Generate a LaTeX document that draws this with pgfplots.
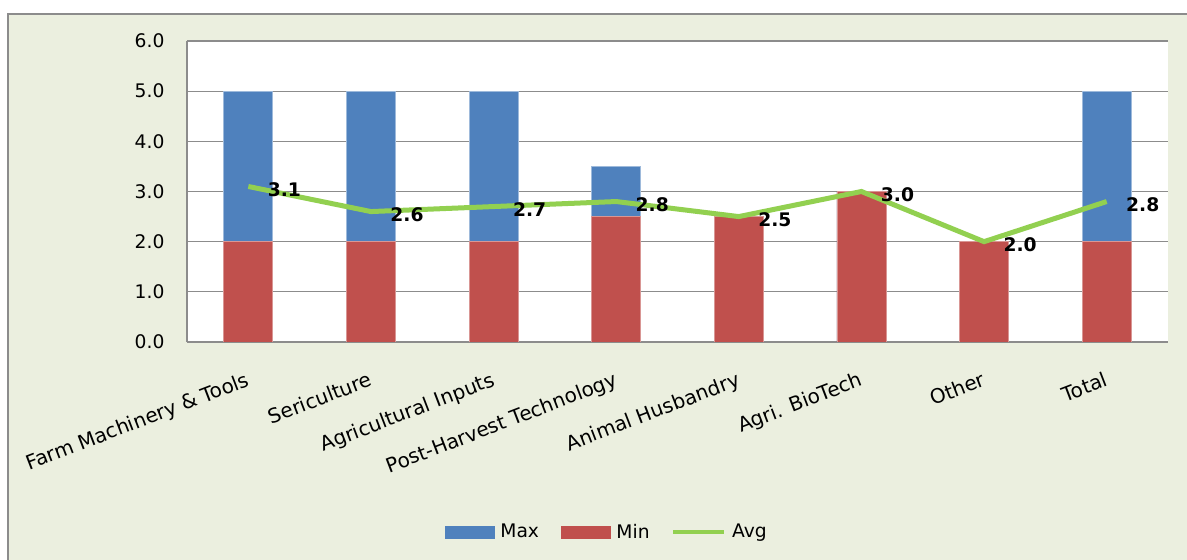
\documentclass[border=0pt]{standalone}
\usepackage{fontspec}
\setmainfont{DejaVu Sans}
\usepackage{pgfplots}
\pgfplotsset{compat=1.18}
\definecolor{bgc}{HTML}{EBEFDF}
\definecolor{maxc}{HTML}{4F81BD}
\definecolor{minc}{HTML}{C0504D}
\definecolor{avgc}{HTML}{92D050}
\definecolor{gridc}{HTML}{8C8C8C}
\newcommand\f{\fontsize{18.7bp}{22bp}\selectfont}
\newcommand\fc{\fontsize{20bp}{22bp}\selectfont}
\begin{document}
\begin{tikzpicture}[font=\f]
\useasboundingbox (0,0) rectangle (1187bp,560bp);
\fill[white] (0,0) rectangle (1187bp,560bp);
\fill[bgc] (8bp,0) rectangle (1187bp,546bp);
\draw[gridc, line width=2bp] (8bp,0) -- (8bp,546bp) -- (1187bp,546bp);
\fill[white] (187bp,218bp) rectangle (1168bp,519bp);
\begin{axis}[
  at={(187bp,218bp)}, anchor=south west,
  scale only axis, width=981bp, height=301bp,
  xmin=-0.5, xmax=7.5, ymin=0, ymax=6,
  ytick={0,1,2,3,4,5,6},
  /pgf/number format/assume math mode=true,
  yticklabel style={/pgf/number format/fixed, /pgf/number format/fixed zerofill, /pgf/number format/precision=1, font=\f, xshift=-19bp},
  xtick={0,1,2,3,4,5,6,7},
  xticklabels={Farm Machinery \& Tools, Sericulture, Agricultural Inputs, Post-Harvest Technology, Animal Husbandry, Agri. BioTech, Other, Total},
  xticklabel style={font=\fc, yshift=-29bp, xshift=-3bp, rotate=21, anchor=north east, inner sep=0pt},
  major tick length=0pt,
  ymajorgrids, grid style={gridc, line width=1.3bp},
  axis x line=bottom, axis y line=left,
  axis line style={-, gridc, line width=1.8bp},
  legend style={at={(0.428,-0.631)}, anchor=center, draw=none, fill=none,
    legend columns=3, font=\f,
    /tikz/every odd column/.style={column sep=4bp},
    /tikz/every even column/.style={column sep=20bp}},
]
\addplot[ybar, bar width=49bp, bar shift=0pt, fill=maxc, draw=maxc!55!white, line width=0.8bp, forget plot]
  coordinates {(0,5) (1,5) (2,5) (3,3.5) (4,2.5) (5,3) (6,2) (7,5)};
\addplot[ybar, bar width=49bp, bar shift=0pt, fill=minc, draw=minc!60!white, line width=0.8bp, forget plot]
  coordinates {(0,2) (1,2) (2,2) (3,2.5) (4,2.5) (5,3) (6,2) (7,2)};
\addplot[avgc, line width=5bp, forget plot,
  nodes near coords={\pgfmathprintnumber[fixed,fixed zerofill,precision=1]{\pgfplotspointmeta}},
  point meta=y,
  every node near coord/.append style={font=\f\bfseries, text=black, anchor=west, inner sep=0pt, xshift=17bp, yshift=-3bp}]
  coordinates {(0,3.1) (1,2.6) (2,2.7) (3,2.8) (4,2.5) (5,3.0) (6,2.0) (7,2.8)};
\addlegendimage{legend image code/.code={\fill[maxc] (0bp,-6bp) rectangle (49bp,6bp);}}
\addlegendentry{Max}
\addlegendimage{legend image code/.code={\fill[minc] (0bp,-6bp) rectangle (49bp,6bp);}}
\addlegendentry{Min}
\addlegendimage{legend image code/.code={\draw[avgc, line width=3.5bp] (0bp,0bp) -- (51bp,0bp);}}
\addlegendentry{Avg}
\end{axis}
\end{tikzpicture}
\end{document}
